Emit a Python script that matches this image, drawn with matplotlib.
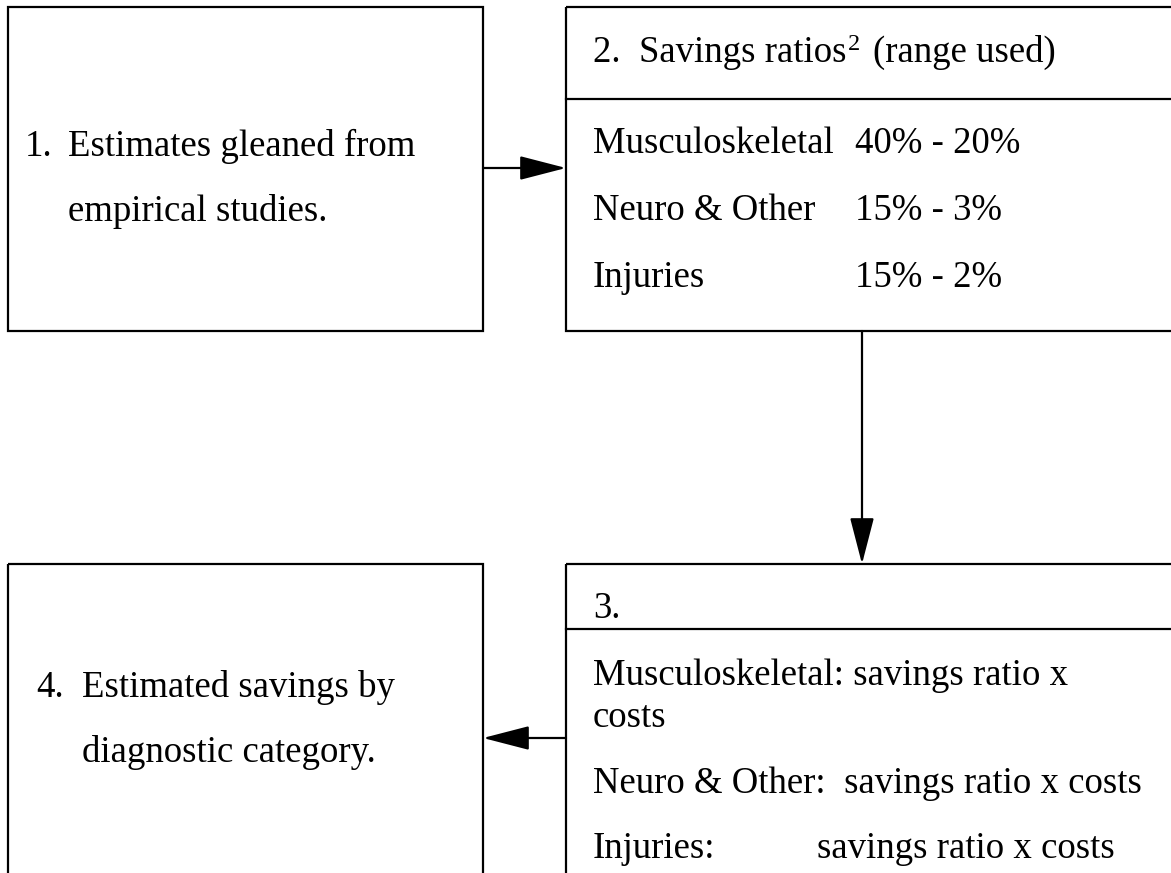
import matplotlib
matplotlib.use("Agg")
import matplotlib.pyplot as plt
from matplotlib.patches import Rectangle

plt.rcParams['font.family'] = ['Liberation Serif', 'DejaVu Serif']

W, H = 1171, 873
fig = plt.figure(figsize=(W / 100, H / 100), dpi=100)
ax = fig.add_axes([0, 0, 1, 1])
ax.set_xlim(0, W)
ax.set_ylim(H, 0)
ax.axis('off')

FS = 26.5
LW = 1.6

# ---- content ----
box1_number = "1."
box1_lines = ["Estimates gleaned from", "empirical studies."]
box2_title = "2.  Savings ratios"
box2_title_sup = "2"
box2_title_tail = "(range used)"
categories = ["Musculoskeletal", "Neuro & Other", "Injuries"]
ranges = ["40% - 20%", "15% - 3%", "15% - 2%"]
box3_title = "3."
box3_lines = ["Musculoskeletal: savings ratio x", "costs",
              "Neuro & Other:  savings ratio x costs"]
box3_last_label = "Injuries:"
box3_last_value = "savings ratio x costs"
box4_number = "4."
box4_lines = ["Estimated savings by", "diagnostic category."]

# ---- boxes ----
def box(x0, y0, x1, y1):
    ax.add_patch(Rectangle((x0, y0), x1 - x0, y1 - y0, fill=False,
                           edgecolor='black', linewidth=LW, clip_on=False))

box(8, 7, 483, 331)
box(566, 7, 1185, 331)
ax.plot([566, 1185], [99, 99], color='black', lw=LW)
box(8, 564, 483, 900)
box(566, 564, 1185, 900)
ax.plot([566, 1185], [629, 629], color='black', lw=LW)

# ---- arrows ----
def arrow(x0, y0, x1, y1):
    ax.annotate("", xy=(x1, y1), xytext=(x0, y0),
                arrowprops=dict(arrowstyle="-|>,head_length=2.9,head_width=0.75",
                                color='black', lw=LW, shrinkA=0, shrinkB=0))

arrow(483, 168, 566, 168)
arrow(862, 331, 862, 564)
arrow(566, 738, 483, 738)

# ---- texts ----
def t(x, y, s, size=FS):
    return ax.text(x, y, s, fontsize=size, va='baseline', ha='left', color='black')

t(25, 156, box1_number)
t(68, 156, box1_lines[0])
t(68, 221, box1_lines[1])

# title with superscript
fig.canvas.draw()
renderer = fig.canvas.get_renderer()
title = t(593, 62, box2_title)
bb = title.get_window_extent(renderer=renderer)
inv = ax.transData.inverted()
x_end = inv.transform((bb.x1, bb.y0))[0]
sup = t(x_end + 1, 50, box2_title_sup, size=FS * 0.66)
bb2 = sup.get_window_extent(renderer=renderer)
x_end2 = inv.transform((bb2.x1, bb2.y0))[0]
t(x_end2 + 13, 62, box2_title_tail)

for y, c, r in zip([153, 220, 287], categories, ranges):
    t(593, y, c)
    t(855, y, r)

t(593, 618, box3_title)
for s, y in zip(box3_lines, [685, 727, 793]):
    t(593, y, s)
t(593, 858, box3_last_label)
t(817, 858, box3_last_value)

t(36, 697, box4_number)
t(82, 697, box4_lines[0])
t(82, 762, box4_lines[1])

fig.savefig("out.png", dpi=100, facecolor='white')
